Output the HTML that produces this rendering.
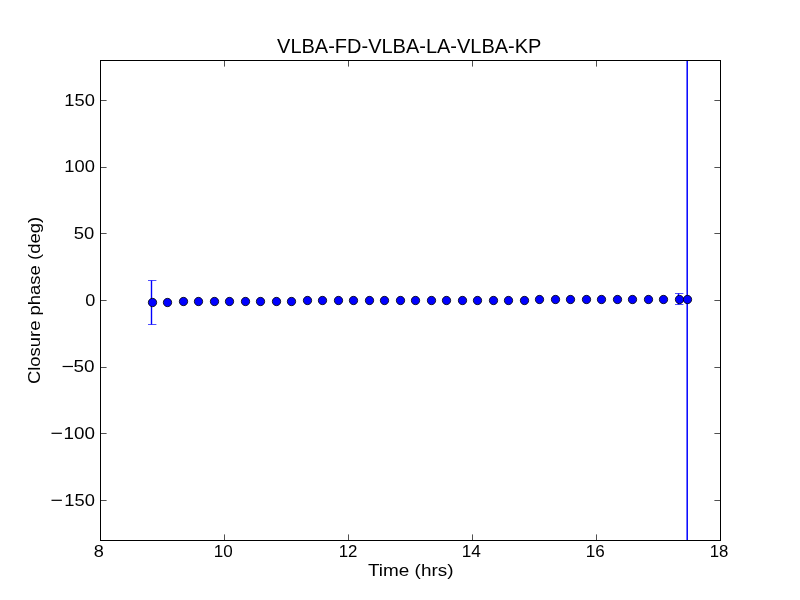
<!DOCTYPE html>
<html><head><meta charset="utf-8"><style>
html,body{margin:0;padding:0;background:#fff;width:800px;height:600px;overflow:hidden;font-family:"Liberation Sans", sans-serif}
</style></head><body>
<svg width="800" height="600" viewBox="0 0 800 600" style="position:absolute;left:0;top:0">
<rect x="0" y="0" width="800" height="600" fill="#fff"/>
<defs><clipPath id="ax"><rect x="100" y="60" width="620" height="480"/></clipPath></defs>
<g clip-path="url(#ax)">
<line x1="151.5" y1="280.5" x2="151.5" y2="324.5" stroke="#0000ff" stroke-width="1.39"/>
<line x1="148" y1="280.5" x2="156.4" y2="280.5" stroke="#0000ff" stroke-width="0.7"/>
<line x1="148" y1="324.5" x2="156.4" y2="324.5" stroke="#0000ff" stroke-width="0.7"/>
<line x1="678.5" y1="293.5" x2="678.5" y2="304.5" stroke="#0000ff" stroke-width="1.39"/>
<line x1="675" y1="293.5" x2="683.4" y2="293.5" stroke="#0000ff" stroke-width="0.7"/>
<line x1="675" y1="304.5" x2="683.4" y2="304.5" stroke="#0000ff" stroke-width="0.7"/>
<line x1="687.2" y1="0" x2="687.2" y2="600" stroke="#0000ff" stroke-width="1.5"/>
<circle cx="152.5" cy="302.5" r="4.17" fill="#0000ff" stroke="#000" stroke-width="0.8"/>
<circle cx="167.5" cy="302.5" r="4.17" fill="#0000ff" stroke="#000" stroke-width="0.8"/>
<circle cx="183.5" cy="301.5" r="4.17" fill="#0000ff" stroke="#000" stroke-width="0.8"/>
<circle cx="198.5" cy="301.5" r="4.17" fill="#0000ff" stroke="#000" stroke-width="0.8"/>
<circle cx="214.5" cy="301.5" r="4.17" fill="#0000ff" stroke="#000" stroke-width="0.8"/>
<circle cx="229.5" cy="301.5" r="4.17" fill="#0000ff" stroke="#000" stroke-width="0.8"/>
<circle cx="245.5" cy="301.5" r="4.17" fill="#0000ff" stroke="#000" stroke-width="0.8"/>
<circle cx="260.5" cy="301.5" r="4.17" fill="#0000ff" stroke="#000" stroke-width="0.8"/>
<circle cx="276.5" cy="301.5" r="4.17" fill="#0000ff" stroke="#000" stroke-width="0.8"/>
<circle cx="291.5" cy="301.5" r="4.17" fill="#0000ff" stroke="#000" stroke-width="0.8"/>
<circle cx="307.5" cy="300.5" r="4.17" fill="#0000ff" stroke="#000" stroke-width="0.8"/>
<circle cx="322.5" cy="300.5" r="4.17" fill="#0000ff" stroke="#000" stroke-width="0.8"/>
<circle cx="338.5" cy="300.5" r="4.17" fill="#0000ff" stroke="#000" stroke-width="0.8"/>
<circle cx="353.5" cy="300.5" r="4.17" fill="#0000ff" stroke="#000" stroke-width="0.8"/>
<circle cx="369.5" cy="300.5" r="4.17" fill="#0000ff" stroke="#000" stroke-width="0.8"/>
<circle cx="384.5" cy="300.5" r="4.17" fill="#0000ff" stroke="#000" stroke-width="0.8"/>
<circle cx="400.5" cy="300.5" r="4.17" fill="#0000ff" stroke="#000" stroke-width="0.8"/>
<circle cx="415.5" cy="300.5" r="4.17" fill="#0000ff" stroke="#000" stroke-width="0.8"/>
<circle cx="431.5" cy="300.5" r="4.17" fill="#0000ff" stroke="#000" stroke-width="0.8"/>
<circle cx="446.5" cy="300.5" r="4.17" fill="#0000ff" stroke="#000" stroke-width="0.8"/>
<circle cx="462.5" cy="300.5" r="4.17" fill="#0000ff" stroke="#000" stroke-width="0.8"/>
<circle cx="477.5" cy="300.5" r="4.17" fill="#0000ff" stroke="#000" stroke-width="0.8"/>
<circle cx="493.5" cy="300.5" r="4.17" fill="#0000ff" stroke="#000" stroke-width="0.8"/>
<circle cx="508.5" cy="300.5" r="4.17" fill="#0000ff" stroke="#000" stroke-width="0.8"/>
<circle cx="524.5" cy="300.5" r="4.17" fill="#0000ff" stroke="#000" stroke-width="0.8"/>
<circle cx="539.5" cy="299.5" r="4.17" fill="#0000ff" stroke="#000" stroke-width="0.8"/>
<circle cx="555.5" cy="299.5" r="4.17" fill="#0000ff" stroke="#000" stroke-width="0.8"/>
<circle cx="570.5" cy="299.5" r="4.17" fill="#0000ff" stroke="#000" stroke-width="0.8"/>
<circle cx="586.5" cy="299.5" r="4.17" fill="#0000ff" stroke="#000" stroke-width="0.8"/>
<circle cx="601.5" cy="299.5" r="4.17" fill="#0000ff" stroke="#000" stroke-width="0.8"/>
<circle cx="617.5" cy="299.5" r="4.17" fill="#0000ff" stroke="#000" stroke-width="0.8"/>
<circle cx="632.5" cy="299.5" r="4.17" fill="#0000ff" stroke="#000" stroke-width="0.8"/>
<circle cx="648.5" cy="299.5" r="4.17" fill="#0000ff" stroke="#000" stroke-width="0.8"/>
<circle cx="663.5" cy="299.5" r="4.17" fill="#0000ff" stroke="#000" stroke-width="0.8"/>
<circle cx="679.5" cy="299.5" r="4.17" fill="#0000ff" stroke="#000" stroke-width="0.8"/>
<circle cx="687.5" cy="299.5" r="4.17" fill="#0000ff" stroke="#000" stroke-width="0.8"/>
</g>
<rect x="100.5" y="60.5" width="620" height="480" fill="none" stroke="#000" stroke-width="1"/>
<line x1="100.5" y1="100.5" x2="106.6" y2="100.5" stroke="#000" stroke-width="0.69"/>
<line x1="714.4" y1="100.5" x2="720.5" y2="100.5" stroke="#000" stroke-width="0.69"/>
<line x1="100.5" y1="167.5" x2="106.6" y2="167.5" stroke="#000" stroke-width="0.69"/>
<line x1="714.4" y1="167.5" x2="720.5" y2="167.5" stroke="#000" stroke-width="0.69"/>
<line x1="100.5" y1="233.5" x2="106.6" y2="233.5" stroke="#000" stroke-width="0.69"/>
<line x1="714.4" y1="233.5" x2="720.5" y2="233.5" stroke="#000" stroke-width="0.69"/>
<line x1="100.5" y1="300.5" x2="106.6" y2="300.5" stroke="#000" stroke-width="0.69"/>
<line x1="714.4" y1="300.5" x2="720.5" y2="300.5" stroke="#000" stroke-width="0.69"/>
<line x1="100.5" y1="367.5" x2="106.6" y2="367.5" stroke="#000" stroke-width="0.69"/>
<line x1="714.4" y1="367.5" x2="720.5" y2="367.5" stroke="#000" stroke-width="0.69"/>
<line x1="100.5" y1="433.5" x2="106.6" y2="433.5" stroke="#000" stroke-width="0.69"/>
<line x1="714.4" y1="433.5" x2="720.5" y2="433.5" stroke="#000" stroke-width="0.69"/>
<line x1="100.5" y1="500.5" x2="106.6" y2="500.5" stroke="#000" stroke-width="0.69"/>
<line x1="714.4" y1="500.5" x2="720.5" y2="500.5" stroke="#000" stroke-width="0.69"/>
<line x1="224.5" y1="540.5" x2="224.5" y2="534.4" stroke="#000" stroke-width="0.69"/>
<line x1="224.5" y1="60.5" x2="224.5" y2="66.6" stroke="#000" stroke-width="0.69"/>
<line x1="348.5" y1="540.5" x2="348.5" y2="534.4" stroke="#000" stroke-width="0.69"/>
<line x1="348.5" y1="60.5" x2="348.5" y2="66.6" stroke="#000" stroke-width="0.69"/>
<line x1="472.5" y1="540.5" x2="472.5" y2="534.4" stroke="#000" stroke-width="0.69"/>
<line x1="472.5" y1="60.5" x2="472.5" y2="66.6" stroke="#000" stroke-width="0.69"/>
<line x1="596.5" y1="540.5" x2="596.5" y2="534.4" stroke="#000" stroke-width="0.69"/>
<line x1="596.5" y1="60.5" x2="596.5" y2="66.6" stroke="#000" stroke-width="0.69"/>
<text transform="translate(64.30,105.90) scale(1.1000,1)" font-family="Liberation Sans" font-size="16.67" fill="#000" style="filter:grayscale(1)">150</text>
<text transform="translate(64.30,171.80) scale(1.1000,1)" font-family="Liberation Sans" font-size="16.67" fill="#000" style="filter:grayscale(1)">100</text>
<text transform="translate(73.69,238.80) scale(1.1059,1)" font-family="Liberation Sans" font-size="16.67" fill="#000" style="filter:grayscale(1)">50</text>
<text transform="translate(85.21,306.00) scale(1.0875,1)" font-family="Liberation Sans" font-size="16.67" fill="#000" style="filter:grayscale(1)">0</text>
<text transform="translate(73.56,372.10) scale(1.1353,1)" font-family="Liberation Sans" font-size="16.67" fill="#000" style="filter:grayscale(1)">50</text>
<rect x="62.6" y="365.90" width="10.4" height="1.2" fill="#000"/>
<text transform="translate(63.47,438.90) scale(1.1308,1)" font-family="Liberation Sans" font-size="16.67" fill="#000" style="filter:grayscale(1)">100</text>
<rect x="51.5" y="432.70" width="10.4" height="1.2" fill="#000"/>
<text transform="translate(64.30,505.90) scale(1.1000,1)" font-family="Liberation Sans" font-size="16.67" fill="#000" style="filter:grayscale(1)">150</text>
<rect x="51.5" y="499.70" width="10.4" height="1.2" fill="#000"/>
<text transform="translate(93.81,557.10) scale(1.0875,1)" font-family="Liberation Sans" font-size="16.67" fill="#000" style="filter:grayscale(1)">8</text>
<text transform="translate(213.68,557.10) scale(1.0235,1)" font-family="Liberation Sans" font-size="16.67" fill="#000" style="filter:grayscale(1)">10</text>
<text transform="translate(338.69,557.10) scale(1.0118,1)" font-family="Liberation Sans" font-size="16.67" fill="#000" style="filter:grayscale(1)">12</text>
<text transform="translate(461.66,557.10) scale(1.0353,1)" font-family="Liberation Sans" font-size="16.67" fill="#000" style="filter:grayscale(1)">14</text>
<text transform="translate(585.68,557.10) scale(1.0235,1)" font-family="Liberation Sans" font-size="16.67" fill="#000" style="filter:grayscale(1)">16</text>
<text transform="translate(709.79,557.10) scale(1.0059,1)" font-family="Liberation Sans" font-size="16.67" fill="#000" style="filter:grayscale(1)">18</text>
<text transform="translate(277.10,53.00) scale(0.9996,1)" font-family="Liberation Sans" font-size="20" fill="#000" style="filter:grayscale(1)">VLBA-FD-VLBA-LA-VLBA-KP</text>
<text transform="translate(368.00,576.00) scale(1.1351,1)" font-family="Liberation Sans" font-size="16.67" fill="#000" style="filter:grayscale(1)">Time (hrs)</text>
<g transform="translate(40,383) rotate(-90)"><text transform="translate(-1.11,0.00) scale(1.1074,1)" font-family="Liberation Sans" font-size="16.67" fill="#000" style="filter:grayscale(1)">Closure phase (deg)</text></g>
</svg>
</body></html>
